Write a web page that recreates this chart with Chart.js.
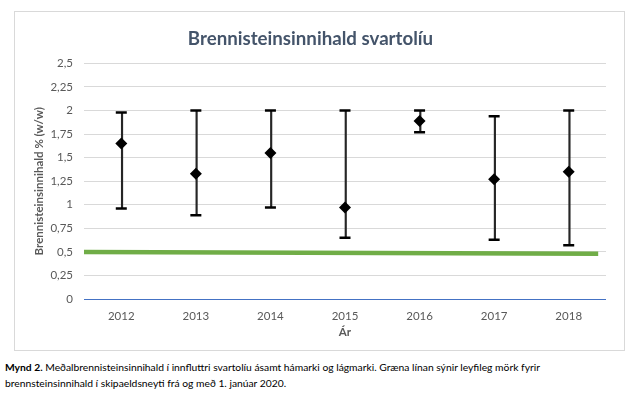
<!DOCTYPE html>
<html>
<head>
<meta charset="utf-8">
<script src="https://cdn.jsdelivr.net/npm/chart.js@4"></script>
<style>
  body { margin: 0; background: #fff; font-family: Lato, sans-serif; }
  #box { position: absolute; left: 14px; top: 11px; width: 611px; height: 340px; border: 1px solid #d9d9d9; box-sizing: border-box; }
  #wrap { position: absolute; left: 0; top: 0; width: 609px; height: 338px; }
  #caption { position: absolute; left: 5px; top: 359px; width: 630px; font-size: 10.3px; line-height: 16px; color: #000; }
</style>
</head>
<body>
<div id="box"><div id="wrap"><canvas id="c"></canvas></div></div>
<div id="caption"><b>Mynd 2.</b> Meðalbrennisteinsinnihald í innfluttri svartolíu ásamt hámarki og lágmarki. Græna línan sýnir leyfileg mörk fyrir<br>brennsteinsinnihald í skipaeldsneyti frá og með 1. janúar 2020.</div>
<script>
const years = ['2012', '2013', '2014', '2015', '2016', '2017', '2018'];
const meanVals = [1.65, 1.33, 1.55, 0.97, 1.89, 1.27, 1.35];
const maxVals = [1.98, 2.0, 2.0, 2.0, 2.0, 1.94, 2.0];
const minVals = [0.96, 0.89, 0.97, 0.65, 1.77, 0.63, 0.57];
const limitLine = [{ x: 0, y: 0.5 }, { x: 0.985, y: 0.48 }];

const grey = '#595959';

new Chart(document.getElementById('c'), {
  type: 'bar',
  data: {
    labels: years,
    datasets: [
      {
        type: 'line',
        data: limitLine,
        xAxisID: 'x2',
        borderColor: '#70AD47',
        borderWidth: 4.5,
        pointRadius: 0,
        order: 10
      },
      {
        data: minVals.map((m, i) => [m, maxVals[i]]),
        backgroundColor: '#262626',
        barThickness: 1.5,
        order: 5
      },
      {
        type: 'line',
        data: maxVals,
        showLine: false,
        pointStyle: 'line',
        pointRadius: 5.5,
        borderColor: '#000',
        borderWidth: 2.5,
        order: 2
      },
      {
        type: 'line',
        data: minVals,
        showLine: false,
        pointStyle: 'line',
        pointRadius: 5.5,
        borderColor: '#000',
        borderWidth: 2.5,
        order: 2
      },
      {
        type: 'line',
        data: meanVals,
        showLine: false,
        pointStyle: 'rectRot',
        pointRadius: 6,
        backgroundColor: '#000',
        borderColor: '#000',
        borderWidth: 0,
        order: 1
      }
    ]
  },
  options: {
    responsive: true,
    maintainAspectRatio: false,
    animation: false,
    layout: { padding: { left: 0, right: 18, top: 0, bottom: 7 } },
    plugins: {
      legend: { display: false },
      tooltip: { enabled: false },
      title: {
        display: true,
        text: 'Brennisteinsinnihald svartolíu',
        color: '#44546A',
        font: { family: 'Lato', size: 18.7, weight: 'bold' },
        padding: { top: 16, bottom: 13 }
      }
    },
    scales: {
      x: {
        grid: { display: false, drawTicks: false },
        border: { display: false },
        ticks: { color: grey, font: { family: 'Lato', size: 11.5 }, padding: 10 },
        title: { display: true, text: 'Ár', color: grey, font: { family: 'Lato', size: 11.5, weight: 'bold' } },
        afterFit: function (s) { s.height = 44; }
      },
      x2: {
        type: 'linear',
        display: false,
        offset: false,
        min: 0,
        max: 1
      },
      y: {
        min: 0,
        max: 2.5,
        grid: {
          drawTicks: false,
          color: ctx => ctx.index === 0 ? '#4472C4' : '#d9d9d9'
        },
        border: { display: false },
        ticks: {
          stepSize: 0.25,
          color: grey,
          padding: 11,
          font: { family: 'Lato', size: 11.5 },
          callback: v => String(v).replace('.', ',')
        },
        title: {
          display: true,
          text: 'Brennisteinsinnihald % (w/w)',
          color: grey,
          font: { family: 'Lato', size: 11.5, weight: 'bold' },
          padding: { top: 17, bottom: 0 }
        },
        afterFit: function (s) { s.width = 69; }
      }
    }
  }
});
</script>
</body>
</html>
